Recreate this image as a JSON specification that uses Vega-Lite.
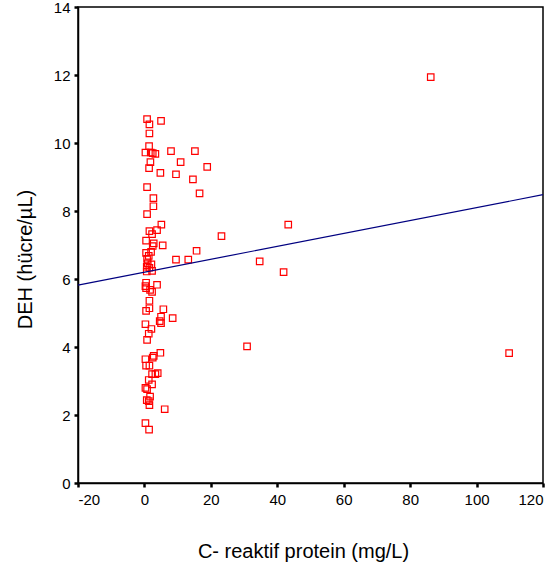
{
  "$schema": "https://vega.github.io/schema/vega-lite/v6.json",
  "autosize": {"type": "none"},
  "width": 465,
  "height": 476,
  "padding": {"left": 78, "top": 7, "right": 13, "bottom": 91},
  "background": "white",
  "config": {
    "view": {"stroke": "black", "strokeWidth": 1.5},
    "font": "Liberation Sans",
    "axis": {
      "grid": false,
      "domainColor": "black",
      "domainWidth": 1.5,
      "tickColor": "black",
      "tickWidth": 2.5,
      "tickSize": 4,
      "labelFont": "Liberation Sans",
      "labelFontSize": 15,
      "labelColor": "black",
      "titleFont": "Liberation Sans",
      "titleFontSize": 20,
      "titleFontWeight": "normal",
      "titleColor": "black"
    }
  },
  "datasets": {
    "pts": [
      {"crp": 0.8, "deh": 10.7}, {"crp": 5.0, "deh": 10.65}, {"crp": 1.5, "deh": 10.55}, {"crp": 1.5, "deh": 10.28},
      {"crp": 1.4, "deh": 9.91}, {"crp": 0.3, "deh": 9.72}, {"crp": 1.9, "deh": 9.72}, {"crp": 2.5, "deh": 9.7},
      {"crp": 3.3, "deh": 9.68}, {"crp": 8.0, "deh": 9.76}, {"crp": 15.2, "deh": 9.76}, {"crp": 10.9, "deh": 9.44},
      {"crp": 1.8, "deh": 9.44}, {"crp": 18.9, "deh": 9.3}, {"crp": 1.4, "deh": 9.26}, {"crp": 4.8, "deh": 9.12},
      {"crp": 9.5, "deh": 9.08}, {"crp": 14.6, "deh": 8.93}, {"crp": 0.8, "deh": 8.7}, {"crp": 16.6, "deh": 8.52},
      {"crp": 2.7, "deh": 8.38}, {"crp": 2.7, "deh": 8.14}, {"crp": 0.8, "deh": 7.91}, {"crp": 5.1, "deh": 7.6},
      {"crp": 1.5, "deh": 7.41}, {"crp": 3.8, "deh": 7.44}, {"crp": 2.3, "deh": 7.32}, {"crp": 23.2, "deh": 7.26},
      {"crp": 0.5, "deh": 7.13}, {"crp": 2.8, "deh": 7.05}, {"crp": 2.5, "deh": 6.97}, {"crp": 5.5, "deh": 6.99},
      {"crp": 0.5, "deh": 6.77}, {"crp": 2.0, "deh": 6.8}, {"crp": 15.7, "deh": 6.83}, {"crp": 1.3, "deh": 6.68},
      {"crp": 9.5, "deh": 6.57}, {"crp": 13.2, "deh": 6.57}, {"crp": 0.8, "deh": 6.59}, {"crp": 1.0, "deh": 6.46},
      {"crp": 2.1, "deh": 6.43}, {"crp": 0.7, "deh": 6.36}, {"crp": 1.5, "deh": 6.33}, {"crp": 2.3, "deh": 6.24},
      {"crp": 0.7, "deh": 6.22}, {"crp": 0.5, "deh": 5.89}, {"crp": 0.3, "deh": 5.79}, {"crp": 3.8, "deh": 5.83},
      {"crp": 0.5, "deh": 5.73}, {"crp": 1.7, "deh": 5.68}, {"crp": 2.3, "deh": 5.62}, {"crp": 1.5, "deh": 5.36},
      {"crp": 1.5, "deh": 5.14}, {"crp": 0.5, "deh": 5.06}, {"crp": 5.7, "deh": 5.11}, {"crp": 5.0, "deh": 4.89},
      {"crp": 8.5, "deh": 4.85}, {"crp": 4.6, "deh": 4.76}, {"crp": 5.0, "deh": 4.7}, {"crp": 0.3, "deh": 4.67},
      {"crp": 2.1, "deh": 4.53}, {"crp": 1.3, "deh": 4.39}, {"crp": 0.8, "deh": 4.21}, {"crp": 4.8, "deh": 3.83},
      {"crp": 2.8, "deh": 3.74}, {"crp": 2.5, "deh": 3.69}, {"crp": 0.3, "deh": 3.64}, {"crp": 0.5, "deh": 3.45},
      {"crp": 1.5, "deh": 3.45}, {"crp": 4.0, "deh": 3.23}, {"crp": 3.3, "deh": 3.2}, {"crp": 2.3, "deh": 3.2},
      {"crp": 1.3, "deh": 3.03}, {"crp": 2.3, "deh": 2.9}, {"crp": 0.3, "deh": 2.8}, {"crp": 0.8, "deh": 2.76},
      {"crp": 1.7, "deh": 2.54}, {"crp": 0.7, "deh": 2.44}, {"crp": 1.3, "deh": 2.41}, {"crp": 1.5, "deh": 2.29},
      {"crp": 6.1, "deh": 2.17}, {"crp": 0.3, "deh": 1.76}, {"crp": 1.4, "deh": 1.57},
      {"crp": 43.3, "deh": 7.6}, {"crp": 34.7, "deh": 6.52}, {"crp": 41.9, "deh": 6.2}, {"crp": 30.9, "deh": 4.02},
      {"crp": 86.2, "deh": 11.94}, {"crp": 109.8, "deh": 3.82}
    ],
    "fit": [
      {"crp": -20, "deh": 5.82},
      {"crp": 120, "deh": 8.48}
    ]
  },
  "layer": [
    {
      "data": {"name": "pts"},
      "mark": {"type": "point", "shape": "square", "size": 42, "filled": false, "color": "#ff0000", "strokeWidth": 1.2, "opacity": 1},
      "encoding": {
        "x": {"field": "crp", "type": "quantitative", "scale": {"domain": [-20, 120], "nice": false, "zero": false},
          "axis": {"values": [-20, 0, 20, 40, 60, 80, 100, 120], "labelExpr": "toString(datum.value)", "title": "C- reaktif protein (mg/L)", "labelPadding": 5, "titlePadding": 34, "titleX": 225}},
        "y": {"field": "deh", "type": "quantitative", "scale": {"domain": [0, 14], "nice": false},
          "axis": {"values": [0, 2, 4, 6, 8, 10, 12, 14], "title": "DEH (hücre/µL)", "labelPadding": 4, "titlePadding": 18, "titleY": 252}}
      }
    },
    {
      "data": {"name": "fit"},
      "mark": {"type": "line", "color": "#000080", "strokeWidth": 1.2},
      "encoding": {
        "x": {"field": "crp", "type": "quantitative"},
        "y": {"field": "deh", "type": "quantitative"}
      }
    }
  ]
}
